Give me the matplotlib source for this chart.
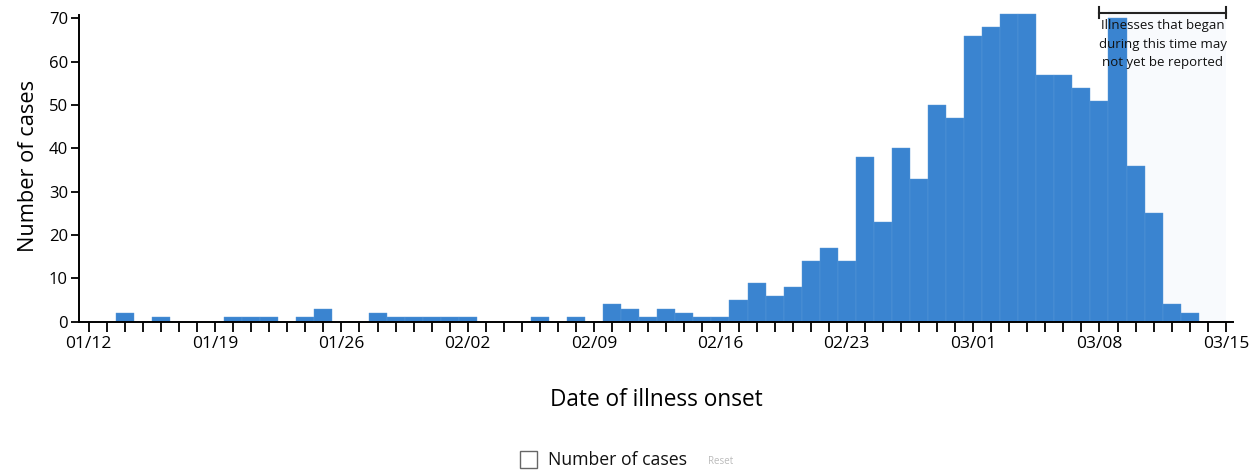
import matplotlib as mpl
from matplotlib import pyplot as plt
from matplotlib.patches import Rectangle
import pandas as pd

plt.rcParams['font.family'] = ['Open Sans', 'DejaVu Sans']

# 발병일별 환자수 (0인 날은 생략)
onset_days = ['01/14', '01/16', '01/20', '01/21', '01/22', '01/24', '01/25',
              '01/28', '01/29', '01/30', '01/31', '02/01', '02/02', '02/06',
              '02/08', '02/10', '02/11', '02/12', '02/13', '02/14', '02/15',
              '02/16', '02/17', '02/18', '02/19', '02/20', '02/21', '02/22',
              '02/23', '02/24', '02/25', '02/26', '02/27', '02/28', '02/29',
              '03/01', '03/02', '03/03', '03/04', '03/05', '03/06', '03/07',
              '03/08', '03/09', '03/10', '03/11', '03/12', '03/13']
cases = [2, 1, 1, 1, 1, 1, 3,
         2, 1, 1, 1, 1, 1, 1,
         1, 4, 3, 1, 3, 2, 1,
         1, 5, 9, 6, 8, 14, 17,
         14, 38, 23, 40, 33, 50, 47,
         66, 68, 71, 71, 57, 57, 54,
         51, 70, 36, 25, 4, 2]

week_labels = ['01/12', '01/19', '01/26', '02/02', '02/09', '02/16',
               '02/23', '03/01', '03/08', '03/15']
note_lines = ['Illnesses that began', 'during this time may', 'not yet be reported']

start = pd.Timestamp('2020-01-12')
def day_no(s):
    return (pd.Timestamp('2020/' + s) - start).days

x = [day_no(d) for d in onset_days]
week_x = [day_no(d) for d in week_labels]

fig = plt.figure(figsize=(12.6, 4.74), dpi=100)
ax = fig.add_axes([0.0627, 0.3213, 0.9159, 0.658])

# 아직 보고 안 됐을 수 있는 구간 (아주 연한 음영)
ax.axvspan(week_x[-2] + 0.5, week_x[-1], color='#f8fafd', zorder=0, lw=0)

ax.bar(x, cases, width=1.0, color='#3a84d0', edgecolor='#5b98d8',
       linewidth=0.3, zorder=2)

ax.set_xlim(-0.54, 63.4)
ax.set_ylim(0, 72)
ax.set_yticks(range(0, 71, 10))
ax.set_xticks(week_x)
ax.set_xticklabels(week_labels)
ax.set_xticks(range(0, 64), minor=True)
ax.tick_params(axis='x', which='both', length=7, width=1.3, direction='out',
               labelsize=12.5, pad=3, color='black')
ax.tick_params(axis='y', length=6, width=1.3, labelsize=12, pad=2)

for s in ['top', 'right']:
    ax.spines[s].set_visible(False)
for s in ['left', 'bottom']:
    ax.spines[s].set_linewidth(1.4)
ax.spines['left'].set_bounds(0, 70.8)

ax.set_ylabel('Number of cases', fontsize=15.7, labelpad=7)
ax.set_xlabel('Date of illness onset', fontsize=16.3, labelpad=26)

# 브래킷 + 설명
y_b = 71.3
ax.plot([week_x[-2], week_x[-1]], [y_b, y_b], color='#222222', lw=1.5,
        clip_on=False, zorder=4)
for xx in [week_x[-2], week_x[-1]]:
    ax.plot([xx, xx], [y_b - 1.3, y_b + 1.3], color='#222222', lw=1.5,
            clip_on=False, zorder=4)
mid = (week_x[-2] + week_x[-1]) / 2
for i, line in enumerate(note_lines):
    ax.text(mid, 68.4 - i * 4.3, line, ha='center', va='center',
            fontsize=9.5, color='#111111', zorder=5)

# 범례 (체크박스 모양)
fig.patches.append(Rectangle((520 / 1260, 1 - 468 / 474), 17 / 1260, 17 / 474,
                             transform=fig.transFigure, fill=False,
                             edgecolor='#666666', linewidth=1.0))
fig.text(548 / 1260, 1 - 460 / 474, 'Number of cases', fontsize=12.7,
         va='center', ha='left', color='#111111')
fig.text(708 / 1260, 1 - 462 / 474, 'Reset', fontsize=7, va='center',
         ha='left', color='#bbbbbb')

fig.savefig('out.png', dpi=100)
